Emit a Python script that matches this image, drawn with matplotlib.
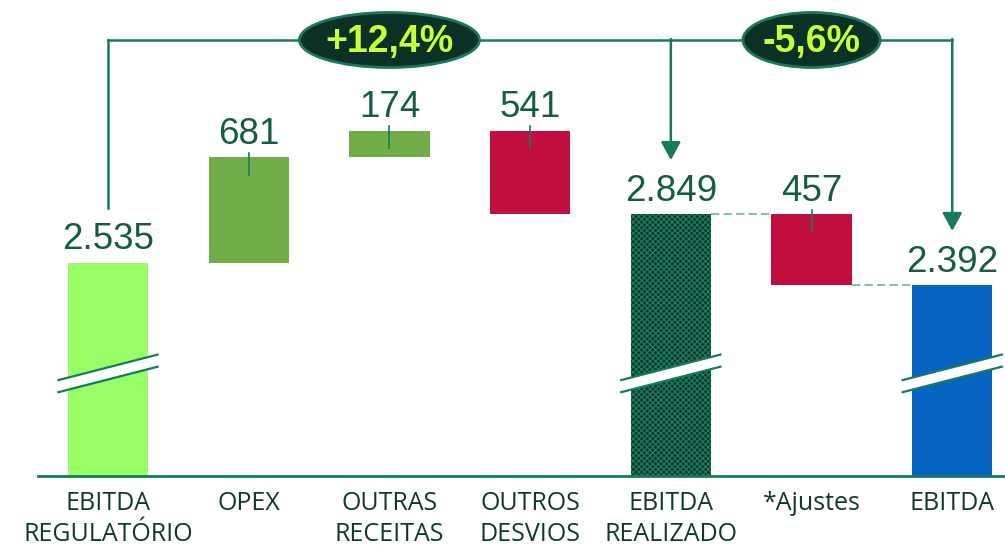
import matplotlib.pyplot as plt
from matplotlib.patches import Ellipse, Polygon

# data
categories = ['EBITDA\nREGULATÓRIO', 'OPEX', 'OUTRAS\nRECEITAS', 'OUTROS\nDESVIOS',
              'EBITDA\nREALIZADO', '*Ajustes', 'EBITDA']
values = [2535, 681, 174, -541, 2849, -457, 2392]
kinds = ['total', 'delta', 'delta', 'delta', 'total', 'delta', 'total']
value_labels = ['2.535', '681', '174', '541', '2.849', '457', '2.392']
pct_labels = ['+12,4%', '-5,6%']

# colours
c_reg = '#99ff66'
c_up = '#70ad47'
c_down = '#c20e3d'
c_real = '#0a3628'
c_final = '#0563c1'
teal = '#167a5e'
c_val = '#155c48'
c_cat = '#0e3a2c'

plt.rcParams['hatch.linewidth'] = 0.8

fig = plt.figure(figsize=(10.05, 5.45), dpi=100)
ax = fig.add_axes([0, 69 / 545, 1, 476 / 545])

y0 = 1161          # value at the (broken) baseline
ax.set_ylim(y0, y0 + 476 / 0.155)
ax.set_xlim(-0.768, 6.375)
width = 0.57

# bars
bottoms, tops = [], []
running = 0
for i, (v, k) in enumerate(zip(values, kinds)):
    if k == 'total':
        running = v
        bottoms.append(y0)
        tops.append(v)
    else:
        start = running
        running = running + v
        bottoms.append(min(start, running))
        tops.append(max(start, running))

colors = []
for i, (v, k) in enumerate(zip(values, kinds)):
    if k == 'delta':
        colors.append(c_up if v > 0 else c_down)
    elif i == 0:
        colors.append(c_reg)
    elif i == 4:
        colors.append(c_real)
    else:
        colors.append(c_final)

heights = [t - b for t, b in zip(tops, bottoms)]
bars = ax.bar(range(len(values)), heights, bottom=bottoms, width=width,
              color=colors, linewidth=0, zorder=2)
bars[4].set_hatch('xxxxxx')
bars[4].set_edgecolor('#1c8063')

# value labels + small leader lines on delta bars
for i, (t, lab, k) in enumerate(zip(tops, value_labels, kinds)):
    ax.text(i, t + 88, lab, ha='center', va='baseline', fontsize=26.5,
            family='Liberation Sans', color=c_val, zorder=5)
    if k == 'delta':
        ax.plot([i, i], [t + 30, t - 110], color=teal, lw=1.2, zorder=4)

# dashed connectors
ax.plot([4 + width / 2, 5 - width / 2], [values[4], values[4]], ls=(0, (4, 2)),
        color='#86c0b0', lw=1.5, zorder=3)
ax.plot([5 + width / 2, 6 - width / 2], [values[6], values[6]], ls=(0, (4, 2)),
        color='#86c0b0', lw=1.5, zorder=3)

# axis break marks
for i in [0, 4, 6]:
    half = 0.36
    lo = [(i - half, 1700), (i + half, 1868)]
    hi = [(i - half, 1778), (i + half, 1946)]
    ax.add_patch(Polygon(lo + hi[::-1], closed=True, facecolor='white',
                         edgecolor='none', zorder=3))
    for seg in (lo, hi):
        ax.plot([seg[0][0], seg[1][0]], [seg[0][1], seg[1][1]], color=teal,
                lw=1.6, zorder=4, solid_capstyle='butt')

# baseline
ax.plot([-0.5, 6.5], [y0 + 3, y0 + 3], color=teal, lw=2, zorder=3, clip_on=False)

# brackets
bracket_y = 3974
ax.plot([0, 0], [values[0] + 355, bracket_y], color=teal, lw=1.8, zorder=3)
ax.plot([0, 6], [bracket_y, bracket_y], color=teal, lw=1.8, zorder=3)
for i in [4, 6]:
    ax.annotate('', xy=(i, values[i] + 350), xytext=(i, bracket_y + 6),
                arrowprops=dict(arrowstyle='-|>,head_length=0.55,head_width=0.3',
                                color=teal, lw=1.8, mutation_scale=20,
                                shrinkA=0, shrinkB=0), zorder=3)

for xc, w, lab in [(2, 1.28, pct_labels[0]), (5, 0.975, pct_labels[1])]:
    ax.add_patch(Ellipse((xc, bracket_y), w, 355, facecolor='#0b3025',
                         edgecolor=teal, lw=2, zorder=6))
    ax.text(xc, bracket_y - 10, lab, ha='center', va='center', fontsize=27,
            fontweight='bold', family='Liberation Sans', color='#c8ff3a', zorder=7)

ax.set_xticks(range(len(categories)))
ax.set_xticklabels(categories, family='Open Sans', fontsize=18, color=c_cat,
                   linespacing=1.3)
ax.tick_params(axis='x', length=0, pad=11)
ax.set_yticks([])
for s in ax.spines.values():
    s.set_visible(False)

fig.savefig('out.png', dpi=100)
